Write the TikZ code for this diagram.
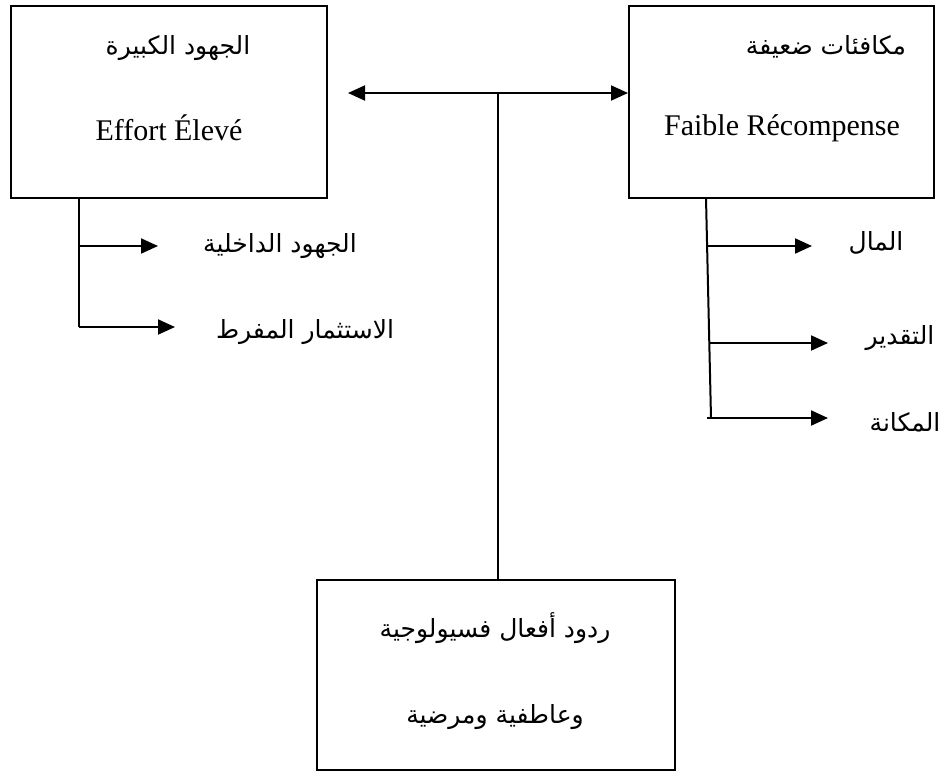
\documentclass[tikz,border=0pt]{standalone}
\usepackage{fontspec}
\setmainfont{Liberation Serif}
\newfontfamily\arabicfont[Script=Arabic]{DejaVu Sans}
\TeXXeTstate=1
\usetikzlibrary{arrows.meta}
\newcommand{\artext}[1]{{\arabicfont\fontsize{25}{29}\selectfont\beginR #1\endR}}
\newcommand{\latext}[1]{{\fontsize{30}{34}\selectfont #1}}

\begin{document}
\begin{tikzpicture}[x=1pt,y=-1pt,
  box/.style={draw, line width=2pt, inner sep=0pt},
  link/.style={line width=2pt},
  arrowlink/.style={line width=2pt, -{Triangle[length=17pt,width=15pt]}},
  twoway/.style={line width=2pt, {Triangle[length=17pt,width=15pt]}-{Triangle[length=17pt,width=15pt]}},
  lbl/.style={inner sep=0pt, anchor=center}]
\useasboundingbox (0,0) rectangle (943,772);

% main boxes
\node[box, minimum width=316pt, minimum height=192pt] (effort) at (169,102) {};
\node[box, minimum width=305pt, minimum height=192pt] (reward) at (781.5,102) {};
\node[box, minimum width=358pt, minimum height=190pt] (react) at (496,675) {};

% box texts
\node[lbl] (effortAr) at (178,48) {\artext{الجهود الكبيرة}};
\node[lbl] (effortFr) at (169,128) {\latext{Effort Élevé}};
\node[lbl] (rewardAr) at (826,47) {\artext{مكافئات ضعيفة}};
\node[lbl] (rewardFr) at (782,128) {\latext{Faible Récompense}};
\node[lbl] (reactA) at (495,628) {\artext{ردود أفعال فسيولوجية}};
\node[lbl] (reactB) at (495,717) {\artext{وعاطفية ومرضية}};

% link between effort and reward, feeding the reactions box
\coordinate (ltip) at (348,93);
\coordinate (mid) at (498,93);
\draw[twoway] (ltip) -- (ltip -| reward.west);
\draw[link] (mid) -- (mid |- react.north);

% effort components
\coordinate (eTop) at (79,198);
\coordinate (e1) at (79,246);
\coordinate (e2) at (79,327);
\node[lbl] (inner) at (280,246) {\artext{الجهود الداخلية}};
\node[lbl] (over) at (305,332) {\artext{الاستثمار المفرط}};
\draw[link] (eTop) -- (e2);
\draw[arrowlink] (e1) -- (158,246) coordinate (e1tip);
\draw[arrowlink] (e2) -- (175,327) coordinate (e2tip);

% reward components
\coordinate (rTop) at (706,198);
\coordinate (rBot) at (711,418);
\coordinate (r1) at (706,246);
\coordinate (r2) at (709,343);
\coordinate (r3) at (707,418);
\node[lbl] (money) at (876,243) {\artext{المال}};
\node[lbl] (esteem) at (900,338) {\artext{التقدير}};
\node[lbl] (status) at (905,422) {\artext{المكانة}};
\draw[link] (rTop) -- (rBot);
\draw[arrowlink] (r1) -- (812,246);
\draw[arrowlink] (r2) -- (828,343);
\draw[arrowlink] (r3) -- (828,418);
\end{tikzpicture}
\end{document}
